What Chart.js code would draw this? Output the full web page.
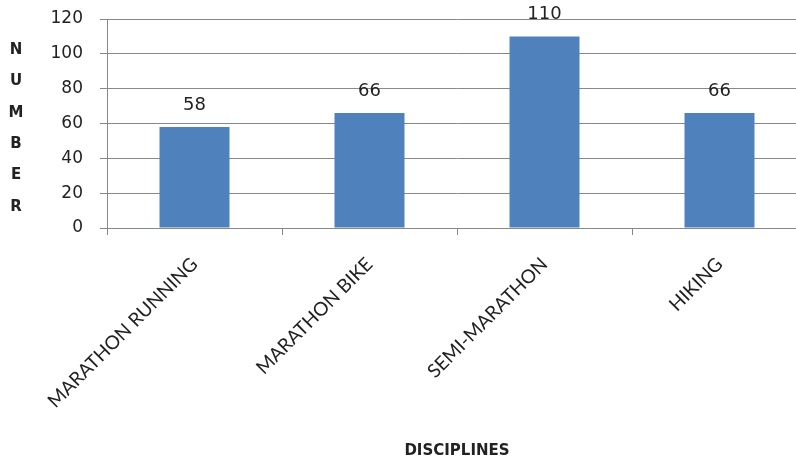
<!DOCTYPE html>
<html>
<head>
<meta charset="utf-8">
<script src="https://cdn.jsdelivr.net/npm/chart.js@4/dist/chart.umd.min.js"></script>
<style>
  html, body { margin: 0; padding: 0; background: #fff; overflow: hidden; }
  #wrap { position: relative; width: 808px; height: 463px; }
</style>
</head>
<body>
<div id="wrap"><canvas id="c" width="808" height="463"></canvas></div>
<script>
const categories = ['MARATHON RUNNING', 'MARATHON BIKE', 'SEMI-MARATHON', 'HIKING'];
const values = [58, 66, 110, 66];
const yTicks = [0, 20, 40, 60, 80, 100, 120];
const yTitle = 'NUMBER';
const xTitle = 'DISCIPLINES';

const valueLabels = {
  id: 'valueLabels',
  afterDatasetsDraw(chart) {
    const ctx = chart.ctx;
    const meta = chart.getDatasetMeta(0);
    ctx.save();
    ctx.font = '18px "DejaVu Sans"';
    ctx.fillStyle = '#222';
    ctx.textAlign = 'center';
    ctx.textBaseline = 'middle';
    meta.data.forEach((bar, i) => {
      ctx.fillText(String(values[i]), bar.x, bar.y - 22);
    });
    ctx.restore();
  }
};

const stackedYTitle = {
  id: 'stackedYTitle',
  afterDraw(chart) {
    const ctx = chart.ctx;
    ctx.save();
    ctx.font = 'bold 15px "DejaVu Sans"';
    ctx.fillStyle = '#222';
    ctx.textAlign = 'center';
    ctx.textBaseline = 'middle';
    const letters = yTitle.split('');
    letters.forEach((ch, i) => {
      ctx.fillText(ch, 16, 50 + i * 31.4);
    });
    ctx.restore();
  }
};

new Chart(document.getElementById('c'), {
  type: 'bar',
  data: {
    labels: categories,
    datasets: [{
      data: values,
      backgroundColor: '#4f81bd',
      borderWidth: 0,
      categoryPercentage: 1,
      barPercentage: 0.4
    }]
  },
  options: {
    responsive: false,
    animation: false,
    layout: { padding: { top: 19, right: 1, left: 0, bottom: 0 } },
    plugins: { legend: { display: false }, tooltip: { enabled: false }, title: { display: false } },
    scales: {
      x: {
        offset: true,
        grid: { display: true, drawOnChartArea: false, drawTicks: true, tickLength: 7, color: '#888', offset: true },
        border: { display: true, color: '#888', width: 1 },
        ticks: {
          color: '#222',
          font: { family: 'Lato', size: 19 },
          maxRotation: 45, minRotation: 45,
          padding: 18
        },
        title: {
          display: true, text: xTitle, color: '#222',
          font: { family: '"DejaVu Sans"', size: 15, weight: 'bold' },
          padding: { top: 0, bottom: 3 }
        },
        afterFit(scale) { scale.height = 235; }
      },
      y: {
        min: 0, max: 120,
        afterBuildTicks(scale) { scale.ticks = yTicks.map(v => ({ value: v })); },
        grid: { color: '#888', lineWidth: 1, drawTicks: true, tickLength: 7, tickColor: '#888' },
        border: { display: true, color: '#888', width: 1 },
        ticks: {
          color: '#222',
          font: { family: '"DejaVu Sans"', size: 17 },
          padding: 17
        },
        afterFit(scale) { scale.width = 107; scale.paddingTop = 0; scale.paddingBottom = 0; }
      }
    }
  },
  plugins: [valueLabels, stackedYTitle]
});
</script>
</body>
</html>
